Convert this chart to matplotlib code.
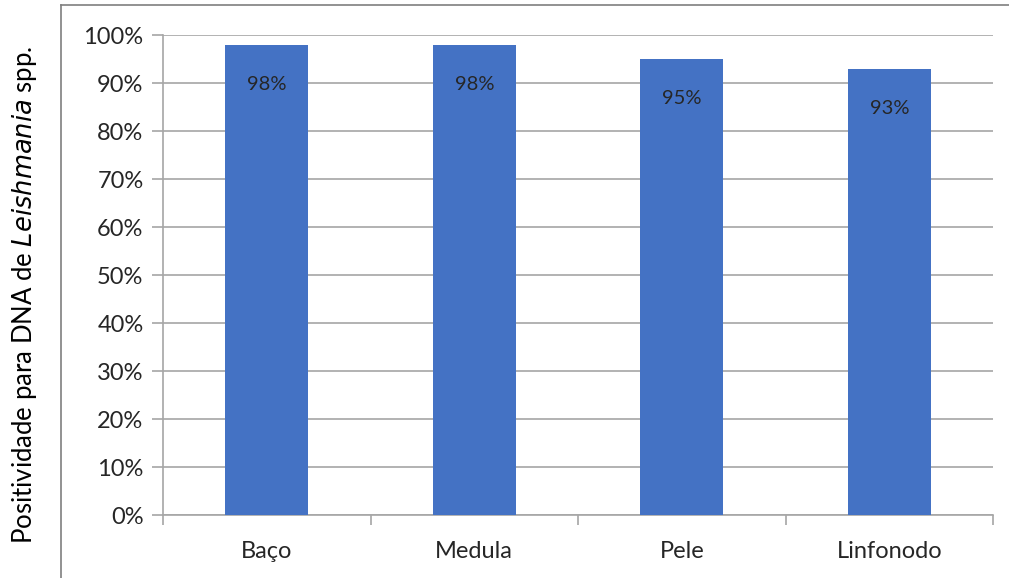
import matplotlib.pyplot as plt
from matplotlib.lines import Line2D
from matplotlib.ticker import PercentFormatter

categorias = ["Baço", "Medula", "Pele", "Linfonodo"]
positividade = [0.98, 0.98, 0.95, 0.93]
rotulos = ["98%", "98%", "95%", "93%"]
yticks = [0.0, 0.1, 0.2, 0.3, 0.4, 0.5, 0.6, 0.7, 0.8, 0.9, 1.0]

plt.rcParams['font.family'] = ['Lato', 'DejaVu Sans']

fig = plt.figure(figsize=(10.09, 5.78), dpi=100)
ax = fig.add_axes([163/1009, 1-515/578, 830/1009, 480/578])

cinza = "#a6a6a6"
texto = "#262626"
x = list(range(len(categorias)))
ax.bar(x, positividade, width=0.4, color="#4472c4", zorder=3)
for xi, v, r in zip(x, positividade, rotulos):
    ax.text(xi, v - 0.083, r, ha="center", va="center", fontsize=14.5, color=texto, zorder=4)

ax.set_xlim(-0.5, len(categorias) - 0.5)
ax.set_ylim(0, 1)
ax.set_yticks(yticks)
ax.yaxis.set_major_formatter(PercentFormatter(1.0, decimals=0))
ax.grid(axis="y", color=cinza, linewidth=1.2, zorder=0)
ax.set_xticks(x)
ax.set_xticklabels(categorias)
ax.set_xticks([i - 0.5 for i in range(len(categorias) + 1)], minor=True)
ax.tick_params(axis="x", which="major", length=0, pad=19, labelsize=17, labelcolor=texto)
ax.tick_params(axis="x", which="minor", length=7, color=cinza, width=1.2)
ax.tick_params(axis="y", length=8, color=cinza, width=1.2, pad=6, labelsize=17, labelcolor=texto)
for s in ["top", "right"]:
    ax.spines[s].set_visible(False)
ax.spines["left"].set_color(cinza)
ax.spines["bottom"].set_color(cinza)
ax.spines["left"].set_linewidth(1.2)
ax.spines["bottom"].set_linewidth(1.2)

fig.text(25/1009, 1-295/578, "Positividade para DNA de $\\it{Leishmania}$ spp.", rotation=90,
         ha="center", va="center", fontsize=18.5, color="black")

# moldura do grafico
fig.add_artist(Line2D([61/1009, 61/1009], [0, 1-5/578], color="#7f7f7f", linewidth=1.2))
fig.add_artist(Line2D([61/1009, 1], [1-5/578, 1-5/578], color="#7f7f7f", linewidth=1.2))

fig.savefig("out.png", dpi=100, facecolor="white")
